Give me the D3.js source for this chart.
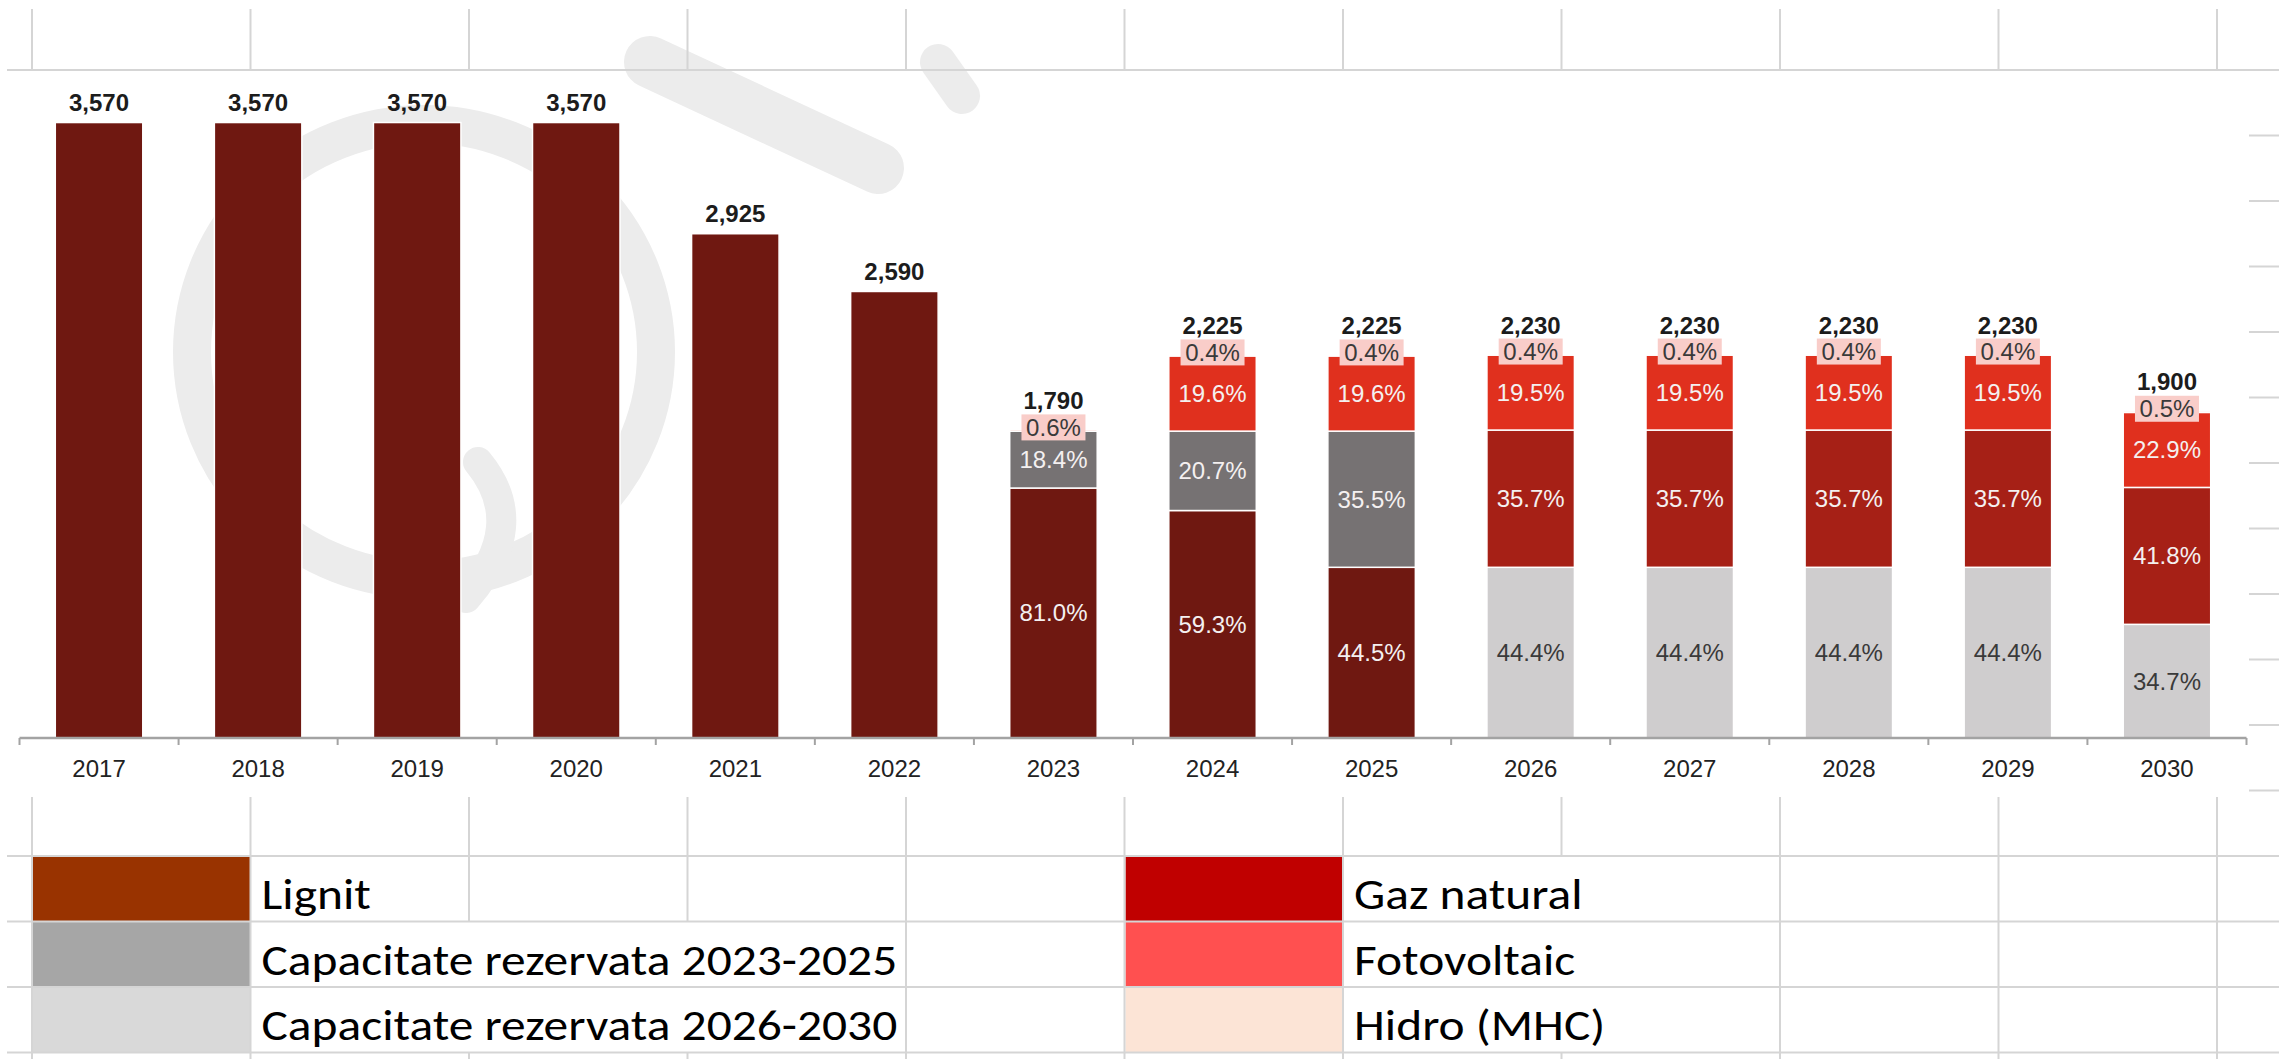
<!DOCTYPE html>
<html>
<head>
<meta charset="utf-8">
<script src="https://cdn.jsdelivr.net/npm/d3@7"></script>
<style>
  html, body { margin: 0; padding: 0; background: #fff; }
  svg { display: block; }
</style>
</head>
<body>
<div id="chart"></div>
<script>
// ---- data ----
const years = ["2017", "2018", "2019", "2020", "2021", "2022", "2023", "2024", "2025", "2026", "2027", "2028", "2029", "2030"]
const totals = [3570, 3570, 3570, 3570, 2925, 2590, 1790, 2225, 2225, 2230, 2230, 2230, 2230, 1900]

// shares of each year's total, in %
const lignitPct  = [100, 100, 100, 100, 100, 100, 81.0, 59.3, 44.5, 0, 0, 0, 0, 0]
const rez2630Pct = [0, 0, 0, 0, 0, 0, 0, 0, 0, 44.4, 44.4, 44.4, 44.4, 34.7]
const rez2325Pct = [0, 0, 0, 0, 0, 0, 18.4, 20.7, 35.5, 0, 0, 0, 0, 0]
const gazPct     = [0, 0, 0, 0, 0, 0, 0, 0, 0, 35.7, 35.7, 35.7, 35.7, 41.8]
const fotoPct    = [0, 0, 0, 0, 0, 0, 0, 19.6, 19.6, 19.5, 19.5, 19.5, 19.5, 22.9]
const hidroPct   = [0, 0, 0, 0, 0, 0, 0.6, 0.4, 0.4, 0.4, 0.4, 0.4, 0.4, 0.5]

const seriesKeys = ["lignit", "rez2630", "rez2325", "gaz", "foto", "hidro"]
const seriesPct = { lignit: lignitPct, rez2630: rez2630Pct, rez2325: rez2325Pct, gaz: gazPct, foto: fotoPct, hidro: hidroPct }

const legendLeft = ["Lignit", "Capacitate rezervata 2023-2025", "Capacitate rezervata 2026-2030"]
const legendRight = ["Gaz natural", "Fotovoltaic", "Hidro (MHC)"]

// ---- styles ----
const barColors = {
  lignit: "#6f1811", rez2630: "#cfcdce", rez2325: "#767273",
  gaz: "#a62016", foto: "#e0301e", hidro: "#f9cdc9"
}
const legendLeftColors = ["#993300", "#a6a6a6", "#d9d9d9"]
const legendRightColors = ["#c00000", "#ff5050", "#fce4d6"]
const darkText = new Set(["rez2630", "hidro"])
const gridColor = "#d5d5d5"

const W = 2279, H = 1059
const colX0 = 32, colW = 218.5, nCols = 10
const rowY0 = 70, rowH = 65.5
const chartRight = 2249, chartBottom = 797

const rows = years.map((y, i) => {
  const r = { year: y, total: totals[i] }
  seriesKeys.forEach(k => { r[k] = totals[i] * seriesPct[k][i] / 100 })
  return r
})

const svg = d3.select("#chart").append("svg")
  .attr("width", W)
  .attr("height", H)
  .style("font-family", "'Liberation Sans', Arial, sans-serif")

svg.append("rect").attr("width", W).attr("height", H).attr("fill", "#fff")

// ---- spreadsheet grid around the chart ----
const colLines = d3.range(nCols + 1).map(i => colX0 + i * colW)
const grid = svg.append("g").attr("stroke", gridColor).attr("stroke-width", 2)

// top row
grid.selectAll(".vtop").data(colLines).join("line")
  .attr("x1", d => d).attr("x2", d => d).attr("y1", 9).attr("y2", rowY0)
grid.append("line").attr("x1", 7).attr("x2", W).attr("y1", rowY0).attr("y2", rowY0)

// strip of rows visible right of the chart
const stripRows = d3.range(1, 12).map(i => rowY0 + i * rowH)
grid.selectAll(".hstrip").data(stripRows).join("line")
  .attr("x1", chartRight).attr("x2", W).attr("y1", d => d).attr("y2", d => d)

// blank row under the chart
const legendTop = rowY0 + 12 * rowH
grid.selectAll(".vblank").data(colLines).join("line")
  .attr("x1", d => d).attr("x2", d => d).attr("y1", chartBottom).attr("y2", legendTop)

// ---- chart ----
const x = d3.scaleBand().domain(years).range([19.5, 2246.5]).paddingInner(0.45).paddingOuter(0.225)
const y = d3.scaleLinear().domain([0, 4000]).range([738, 48.4])

const chart = svg.append("g")

// faint logo watermark behind the bars
const mark = chart.append("g")
  .attr("fill", "none").attr("stroke", "#ececec").attr("stroke-linecap", "round")
mark.append("ellipse")
  .attr("cx", 424).attr("cy", 352).attr("rx", 232).attr("ry", 228)
  .attr("stroke-width", 38)
mark.append("path").attr("stroke-width", 30)
  .attr("d", "M 478 462 Q 530 525 466 598")
mark.append("path").attr("stroke-width", 52)
  .attr("d", "M 650 62 L 878 168")
mark.append("path").attr("stroke-width", 36)
  .attr("d", "M 938 62 L 962 96")

const stacked = d3.stack().keys(seriesKeys)(rows)

const layer = chart.selectAll(".layer").data(stacked).join("g")
  .attr("fill", d => barColors[d.key])

layer.selectAll("rect").data(d => d.filter(p => p[1] - p[0] > 0)).join("rect")
  .attr("x", d => x(d.data.year))
  .attr("width", x.bandwidth())
  .attr("y", d => y(d[1]))
  .attr("height", d => y(d[0]) - y(d[1]))
  .attr("stroke", "#fff")
  .attr("stroke-width", 1.5)

// percentage labels inside segments (stacked years only)
stacked.filter(s => s.key !== "hidro").forEach(s => {
  const pct = seriesPct[s.key]
  chart.append("g").selectAll("text")
    .data(s.map((p, i) => ({ p, v: pct[i] })).filter(d => d.v > 0 && d.v < 100))
    .join("text")
    .attr("x", d => x(d.p.data.year) + x.bandwidth() / 2)
    .attr("y", d => (y(d.p[0]) + y(d.p[1])) / 2)
    .attr("dy", "0.35em")
    .attr("text-anchor", "middle")
    .attr("font-size", 24)
    .attr("fill", darkText.has(s.key) ? "#3a3a3a" : "#f4f0f0")
    .text(d => d3.format(".1f")(d.v) + "%")
})

// hidro labels sit in a small pink box at the top of the bar
const hidroLayer = stacked.find(s => s.key === "hidro")
const hidroLabels = chart.append("g").selectAll("g")
  .data(hidroLayer.map((p, i) => ({ p, v: hidroPct[i] })).filter(d => d.v > 0))
  .join("g")
  .attr("transform", d => `translate(${x(d.p.data.year) + x.bandwidth() / 2},${y(d.p[1]) - 2})`)
hidroLabels.append("rect")
  .attr("x", -32).attr("y", -13).attr("width", 64).attr("height", 26)
  .attr("fill", barColors.hidro)
hidroLabels.append("text")
  .attr("dy", "0.35em")
  .attr("text-anchor", "middle")
  .attr("font-size", 24)
  .attr("fill", "#3a3a3a")
  .text(d => d3.format(".1f")(d.v) + "%")

// totals above bars
chart.append("g").selectAll("text").data(rows).join("text")
  .attr("x", d => x(d.year) + x.bandwidth() / 2)
  .attr("y", d => y(d.total) - (d.hidro > 0 ? 20 : 11.5))
  .attr("text-anchor", "middle")
  .attr("font-size", 24)
  .attr("font-weight", "bold")
  .attr("fill", "#1c1c1c")
  .text(d => d3.format(",")(d.total))

// category axis
const axis = chart.append("g")
  .attr("transform", `translate(0,${y(0)})`)
  .call(d3.axisBottom(x).tickSize(0).tickPadding(22))
axis.select(".domain").remove()
axis.selectAll("text")
  .attr("font-size", 24)
  .attr("font-family", "'Liberation Sans', Arial, sans-serif")
  .attr("fill", "#222")

const bounds = years.map(yr => x(yr) - x.step() * x.paddingInner() / 2)
bounds.push(x(years[years.length - 1]) + x.bandwidth() + x.step() * x.paddingInner() / 2)
axis.append("line")
  .attr("x1", bounds[0]).attr("x2", bounds[bounds.length - 1])
  .attr("stroke", "#a3a3a3").attr("stroke-width", 2.5)
axis.selectAll(".bound").data(bounds).join("line")
  .attr("x1", d => d).attr("x2", d => d).attr("y1", 0).attr("y2", 7)
  .attr("stroke", "#a3a3a3").attr("stroke-width", 2)

// ---- legend drawn as spreadsheet cells ----
const legend = svg.append("g")
const legendFont = "Carlito, Calibri, 'Open Sans', sans-serif"
const cols = [
  { labels: legendLeft, colors: legendLeftColors, swatchCol: 0 },
  { labels: legendRight, colors: legendRightColors, swatchCol: 5 }
]

const textSpans = [[], [], []]
cols.forEach(c => {
  c.labels.forEach((lab, r) => {
    const top = legendTop + r * rowH
    legend.append("rect")
      .attr("x", colLines[c.swatchCol] + 1)
      .attr("y", top)
      .attr("width", colW - 1)
      .attr("height", rowH)
      .attr("fill", c.colors[r])
    const tx = colLines[c.swatchCol + 1] + 11
    const t = legend.append("text")
      .attr("font-family", legendFont)
      .attr("font-size", 43)
      .attr("fill", "#000")
      .text(lab)
    t.attr("data-x", tx).attr("data-y", top + rowH - 12.5)
  })
})

// narrow the substitute font to the cell font's width
const texts = legend.selectAll("text")
const longest = d3.max(texts.nodes(), n => n.getComputedTextLength())
const k = 636 / longest
texts.each(function () {
  const n = d3.select(this)
  const tx = +n.attr("data-x"), ty = +n.attr("data-y")
  n.attr("transform", `translate(${tx},${ty}) scale(${k},1)`)
  const r = Math.round((ty + 12.5 - legendTop) / rowH) - 1
  textSpans[r].push([tx, tx + this.getComputedTextLength() * k])
})

// horizontal row borders
const legendRows = d3.range(4).map(i => legendTop + i * rowH)
grid.raise()
grid.selectAll(".hleg").data(legendRows).join("line")
  .attr("x1", 7).attr("x2", W).attr("y1", d => d).attr("y2", d => d)

// vertical borders, hidden where text spills over them
d3.range(3).forEach(r => {
  const top = legendTop + r * rowH
  colLines
    .filter(cx => !textSpans[r].some(([a, b]) => cx > a && cx < b))
    .forEach(cx => {
      grid.append("line").attr("x1", cx).attr("x2", cx).attr("y1", top).attr("y2", top + rowH)
    })
})
grid.selectAll(".vbottom").data(colLines).join("line")
  .attr("x1", d => d).attr("x2", d => d).attr("y1", legendRows[3]).attr("y2", H)
</script>
</body>
</html>
